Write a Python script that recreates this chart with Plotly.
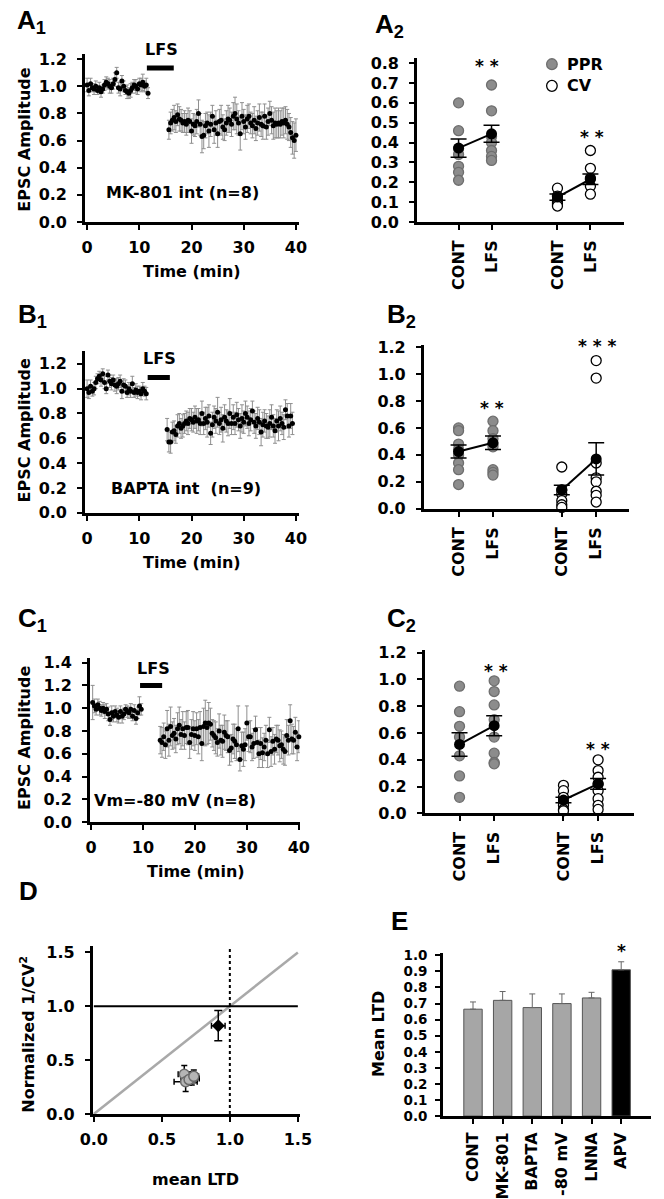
import numpy as np
import plotly.graph_objects as go

W, H = 664, 1199
FONT = "DejaVu Sans"
LETTER_FONT = "Liberation Sans"

# ---------------- time-course data (A1, B1, C1) ----------------
TIME_TICKS = [0, 10, 20, 30, 40]

A1_PRE_T = (0.0, 11.67)
A1_PRE = [1.01, 0.97, 1.02, 0.99, 0.98, 1.00, 0.97, 0.99, 0.96, 0.98,
          1.01, 1.03, 1.02, 1.00, 0.99, 1.02, 1.05, 1.10, 0.99, 0.98,
          1.04, 1.00, 0.97, 0.96, 0.95, 0.97, 0.99, 1.01, 1.00, 0.98,
          1.02, 1.01, 1.03, 1.00, 1.01, 0.95]
A1_PRE_ERR = [0.05, 0.04, 0.04, 0.03, 0.04, 0.04, 0.03, 0.04, 0.04, 0.03,
              0.04, 0.04, 0.04, 0.05, 0.04, 0.04, 0.05, 0.04, 0.04, 0.05,
              0.04, 0.04, 0.03, 0.05, 0.04, 0.05, 0.04, 0.04, 0.05, 0.04,
              0.04, 0.05, 0.06, 0.04, 0.05, 0.04]
A1_POST_T = (15.67, 40.0)
A1_POST = [0.68, 0.73, 0.75, 0.77, 0.74, 0.79, 0.76, 0.75, 0.73, 0.74,
           0.72, 0.75, 0.74, 0.67, 0.72, 0.71, 0.74, 0.80, 0.72, 0.63,
           0.64, 0.71, 0.73, 0.67, 0.72, 0.78, 0.68, 0.73, 0.65, 0.74,
           0.75, 0.70, 0.68, 0.73, 0.76, 0.75, 0.72, 0.78, 0.80, 0.76,
           0.73, 0.65, 0.78, 0.74, 0.70, 0.76, 0.78, 0.73, 0.71, 0.75,
           0.69, 0.73, 0.77, 0.72, 0.71, 0.78, 0.70, 0.74, 0.80, 0.75,
           0.71, 0.73, 0.72, 0.73, 0.72, 0.74, 0.73, 0.75, 0.72, 0.70,
           0.66, 0.62, 0.60, 0.64]
A1_POST_ERR = [0.07, 0.08, 0.08, 0.09, 0.08, 0.08, 0.09, 0.08, 0.07, 0.08,
               0.08, 0.09, 0.08, 0.09, 0.08, 0.08, 0.09, 0.10, 0.08, 0.12,
               0.10, 0.09, 0.08, 0.12, 0.09, 0.08, 0.10, 0.09, 0.10, 0.09,
               0.11, 0.09, 0.08, 0.09, 0.10, 0.09, 0.09, 0.10, 0.12, 0.11,
               0.09, 0.12, 0.10, 0.09, 0.09, 0.10, 0.09, 0.08, 0.09, 0.10,
               0.09, 0.09, 0.10, 0.09, 0.10, 0.09, 0.09, 0.10, 0.09, 0.10,
               0.10, 0.11, 0.10, 0.11, 0.10, 0.10, 0.11, 0.10, 0.11, 0.10,
               0.11, 0.12, 0.13, 0.12]
A1_LFS = (11.45, 16.6, 1.135)

B1_PRE_T = (0.0, 11.33)
B1_PRE = [1.00, 0.97, 1.02, 0.98, 1.00, 1.05, 1.08, 1.10, 1.07, 1.12,
          1.05, 1.00, 1.11, 1.06, 1.04, 1.07, 1.03, 1.02, 1.04, 1.06,
          0.98, 1.03, 1.02, 0.97, 1.00, 0.98, 1.04, 0.97, 0.99, 0.97,
          0.98, 0.96, 1.00, 0.98, 0.96]
B1_PRE_ERR = [0.07, 0.05, 0.05, 0.04, 0.05, 0.05, 0.04, 0.04, 0.05, 0.04,
              0.05, 0.04, 0.04, 0.05, 0.05, 0.04, 0.05, 0.06, 0.05, 0.05,
              0.06, 0.05, 0.05, 0.04, 0.05, 0.05, 0.06, 0.04, 0.05, 0.05,
              0.04, 0.05, 0.05, 0.04, 0.05]
B1_POST_T = (15.33, 39.33)
B1_POST = [0.67, 0.57, 0.57, 0.65, 0.66, 0.63, 0.70, 0.72, 0.68, 0.70,
           0.72, 0.74, 0.72, 0.76, 0.75, 0.73, 0.77, 0.74, 0.75, 0.72,
           0.80, 0.72, 0.76, 0.73, 0.78, 0.64, 0.71, 0.77, 0.74, 0.81,
           0.72, 0.75, 0.68, 0.77, 0.74, 0.72, 0.80, 0.72, 0.77, 0.72,
           0.79, 0.75, 0.70, 0.76, 0.73, 0.80, 0.77, 0.72, 0.75, 0.82,
           0.73, 0.70, 0.76, 0.73, 0.65, 0.71, 0.74, 0.70, 0.69, 0.72,
           0.77, 0.70, 0.66, 0.74, 0.70, 0.76, 0.72, 0.69, 0.83, 0.78,
           0.70, 0.78, 0.72]
B1_POST_ERR = [0.09, 0.08, 0.09, 0.08, 0.08, 0.07, 0.09, 0.08, 0.08, 0.09,
               0.08, 0.08, 0.09, 0.08, 0.09, 0.08, 0.09, 0.10, 0.09, 0.09,
               0.10, 0.09, 0.09, 0.12, 0.09, 0.09, 0.10, 0.09, 0.10, 0.12,
               0.09, 0.10, 0.11, 0.10, 0.09, 0.10, 0.12, 0.09, 0.10, 0.09,
               0.10, 0.09, 0.10, 0.11, 0.09, 0.10, 0.09, 0.10, 0.09, 0.08,
               0.09, 0.10, 0.09, 0.10, 0.11, 0.10, 0.09, 0.10, 0.09, 0.11,
               0.10, 0.09, 0.10, 0.09, 0.12, 0.10, 0.09, 0.10, 0.08, 0.10,
               0.09, 0.10, 0.09]
B1_LFS = (11.6, 15.85, 1.09)

C1_PRE_T = (0.33, 9.67)
C1_PRE = [1.05, 1.02, 0.99, 1.03, 1.00, 0.98, 1.00, 0.97, 0.99, 0.95,
          0.90, 0.96, 0.93, 0.97, 0.94, 0.92, 0.97, 0.93, 0.95, 0.99,
          0.97, 0.96, 0.99, 0.93, 0.98, 0.91, 0.96, 1.02, 0.99]
C1_PRE_ERR = [0.15, 0.06, 0.05, 0.05, 0.06, 0.05, 0.05, 0.06, 0.05, 0.06,
              0.05, 0.06, 0.05, 0.05, 0.06, 0.05, 0.05, 0.06, 0.05, 0.04,
              0.05, 0.05, 0.05, 0.04, 0.05, 0.05, 0.05, 0.08, 0.05]
C1_POST_T = (13.33, 40.0)
C1_POST = [0.72, 0.70, 0.75, 0.68, 0.82, 0.72, 0.84, 0.76, 0.78, 0.73,
           0.82, 0.85, 0.77, 0.82, 0.76, 0.83, 0.83, 0.70, 0.77, 0.82,
           0.76, 0.82, 0.75, 0.83, 0.69, 0.84, 0.87, 0.83, 0.87, 0.86,
           0.78, 0.76, 0.74, 0.70, 0.80, 0.72, 0.71, 0.79, 0.76, 0.75,
           0.63, 0.65, 0.73, 0.71, 0.68, 0.82, 0.55, 0.67, 0.64, 0.68,
           0.87, 0.75, 0.75, 0.66, 0.69, 0.81, 0.70, 0.60, 0.69, 0.61,
           0.66, 0.72, 0.60, 0.81, 0.62, 0.71, 0.64, 0.73, 0.72, 0.67,
           0.68, 0.64, 0.62, 0.76, 0.72, 0.89, 0.73, 0.72, 0.79, 0.66,
           0.75]
C1_POST_ERR = [0.12, 0.13, 0.12, 0.12, 0.16, 0.14, 0.17, 0.12, 0.13, 0.12,
               0.14, 0.16, 0.13, 0.15, 0.12, 0.14, 0.15, 0.14, 0.13, 0.15,
               0.13, 0.14, 0.15, 0.14, 0.15, 0.16, 0.20, 0.15, 0.18, 0.14,
               0.12, 0.13, 0.14, 0.12, 0.15, 0.13, 0.14, 0.15, 0.13, 0.14,
               0.13, 0.12, 0.13, 0.15, 0.14, 0.20, 0.10, 0.12, 0.15, 0.14,
               0.15, 0.13, 0.14, 0.12, 0.13, 0.12, 0.13, 0.12, 0.14, 0.13,
               0.12, 0.13, 0.12, 0.11, 0.13, 0.12, 0.13, 0.12, 0.13, 0.14,
               0.12, 0.13, 0.12, 0.14, 0.13, 0.14, 0.13, 0.12, 0.13, 0.12,
               0.14]
C1_LFS = (9.45, 13.7, 1.20)

# ---------------- PPR / CV scatter data (A2, B2, C2) ----------------
CAT_POS = [1, 2, 4, 5]
CAT_LABELS = ["CONT", "LFS", "CONT", "LFS"]

A2_PPR_CONT = [0.60, 0.46, 0.37, 0.34, 0.28, 0.25, 0.21]
A2_PPR_LFS = [0.69, 0.56, 0.43, 0.40, 0.36, 0.33, 0.31]
A2_PPR_MEAN = [0.372, 0.444]
A2_PPR_SEM = [0.046, 0.043]
A2_CV_CONT = [0.17, 0.13, 0.11, 0.10, 0.09, 0.08]
A2_CV_LFS = [0.36, 0.27, 0.22, 0.18, 0.14]
A2_CV_MEAN = [0.125, 0.215]
A2_CV_SEM = [0.016, 0.027]

B2_PPR_CONT = [0.60, 0.58, 0.48, 0.44, 0.40, 0.34, 0.29, 0.18]
B2_PPR_LFS = [0.65, 0.58, 0.52, 0.48, 0.46, 0.29, 0.27, 0.25]
B2_PPR_MEAN = [0.425, 0.49]
B2_PPR_SEM = [0.048, 0.05]
B2_CV_CONT = [0.31, 0.14, 0.11, 0.06, 0.03, 0.01]
B2_CV_LFS = [1.10, 0.97, 0.34, 0.23, 0.20, 0.13, 0.10, 0.05]
B2_CV_MEAN = [0.14, 0.37]
B2_CV_SEM = [0.035, 0.12]

C2_PPR_CONT = [0.95, 0.76, 0.65, 0.57, 0.43, 0.28, 0.12]
C2_PPR_LFS = [0.99, 0.91, 0.81, 0.70, 0.57, 0.45, 0.38, 0.37]
C2_PPR_MEAN = [0.515, 0.655]
C2_PPR_SEM = [0.088, 0.075]
C2_CV_CONT = [0.21, 0.17, 0.12, 0.08, 0.06, 0.03, 0.02]
C2_CV_LFS = [0.40, 0.32, 0.27, 0.22, 0.17, 0.11, 0.06, 0.03]
C2_CV_MEAN = [0.10, 0.22]
C2_CV_SEM = [0.02, 0.04]

# ---------------- D: 1/CV^2 vs mean LTD ----------------
D_GRAY_X = [0.665, 0.72, 0.675, 0.70, 0.735]
D_GRAY_XERR = [0.045, 0.055, 0.085, 0.06, 0.035]
D_GRAY_Y = [0.37, 0.33, 0.30, 0.32, 0.35]
D_GRAY_YERR = [0.08, 0.06, 0.09, 0.05, 0.06]
D_APV_X = [0.915]
D_APV_XERR = [0.05]
D_APV_Y = [0.82]
D_APV_YERR = [0.14]
D_UNITY = [0.0, 1.5]
D_HLINE_Y = 1.0
D_VLINE_X = 1.0

# ---------------- E: mean LTD bars ----------------
E_CATS = ["CONT", "MK-801", "BAPTA", "-80 mV", "LNNA", "APV"]
E_VALS = [0.665, 0.72, 0.675, 0.70, 0.735, 0.91]
E_ERR = [0.045, 0.055, 0.085, 0.06, 0.035, 0.05]
E_COLORS = ["#a6a6a6"] * 5 + ["#000000"]


# ---------------- helpers ----------------
def rng(p_lo, p_hi, v1, p1, v2, p2):
    s = (v2 - v1) / (p2 - p1)
    return [v1 + (p_lo - p1) * s, v1 + (p_hi - p1) * s]


def px(x):
    return x / W


def py(y):
    return 1 - y / H


TF = dict(family=FONT, size=16, color="black", weight="bold")

# panel geometry: (index, x-dom px, y-dom px (top,bottom), x-calib, y-calib)
PANELS = {
    "A1": (1, (75, 297), (48, 218), (0, 77, 40, 294), (0, 218, 1.2, 53)),
    "A2": (2, (420, 635), (52, 218), (1, 463, 5, 600), (0, 218, 0.8, 57)),
    "B1": (3, (75, 297), (349, 513), (0, 77, 40, 294), (0, 513, 1.2, 362)),
    "B2": (4, (427, 640), (343, 509), (1, 463, 5, 606), (0, 509, 1.2, 345)),
    "C1": (5, (80, 298), (660, 827), (0, 81, 40, 297), (0, 827, 1.4, 665)),
    "C2": (6, (428, 645), (652, 818), (1, 464, 5, 608), (0, 818, 1.2, 655)),
    "D": (7, (83, 298), (952, 1123), (0, 84, 1.5, 296), (0, 1123, 1.5, 959)),
    "E": (8, (447, 663), (960, 1125), (0, 478, 5, 632), (0, 1125, 1.0, 962)),
}

layout_axes = {}
for name, (i, xd, yd, xc, yc) in PANELS.items():
    sfx = "" if i == 1 else str(i)
    base = dict(showline=True, linecolor="black", linewidth=3, showgrid=False,
                zeroline=False, ticks="outside", tickcolor="black", tickwidth=2,
                ticklen=5, tickfont=TF, fixedrange=True)
    xa = dict(base, domain=[px(xd[0]), px(xd[1])], anchor="y" + sfx,
              range=rng(xd[0], xd[1], *xc))
    ya = dict(base, domain=[py(yd[1]), py(yd[0])], anchor="x" + sfx,
              range=rng(yd[1], yd[0], *yc), tickformat=".1f", ticklabelstandoff=7)
    if name in ("A1", "B1", "C1"):
        xa.update(tickvals=TIME_TICKS, ticklabelstandoff=4)
        ya.update(dtick=0.2, tick0=0)
    elif name in ("A2", "B2", "C2"):
        xa.update(tickvals=CAT_POS, ticktext=CAT_LABELS, tickangle=-90, ticklabelstandoff=4)
        ya.update(dtick=0.1 if name == "A2" else 0.2, tick0=0)
    elif name == "D":
        xa.update(dtick=0.5, tick0=0, tickformat=".1f", ticklabelstandoff=4)
        ya.update(dtick=0.5, tick0=0)
    else:
        xa.update(tickvals=list(range(len(E_CATS))), ticktext=E_CATS, tickangle=-90,
                  ticklabelstandoff=2)
        ya.update(dtick=0.1, tick0=0, ticklabelstandoff=5,
                  tickfont=dict(family=FONT, size=13.5, color="black", weight="bold"))
    layout_axes["xaxis" + sfx] = xa
    layout_axes["yaxis" + sfx] = ya


def ax(name):
    i = PANELS[name][0]
    s = "" if i == 1 else str(i)
    return dict(xaxis="x" + s, yaxis="y" + s)


fig = go.Figure()


def add_timecourse(name, pre_t, pre, pre_err, post_t, post, post_err):
    for (t0, t1), vals, errs in ((pre_t, pre, pre_err), (post_t, post, post_err)):
        t = np.linspace(t0, t1, len(vals))
        fig.add_trace(go.Scatter(
            x=t, y=vals, mode="markers", showlegend=False, cliponaxis=False,
            marker=dict(color="black", size=5),
            error_y=dict(type="data", array=errs, color="#8f8f8f", thickness=1, width=2),
            **ax(name)))


add_timecourse("A1", A1_PRE_T, A1_PRE, A1_PRE_ERR, A1_POST_T, A1_POST, A1_POST_ERR)
add_timecourse("B1", B1_PRE_T, B1_PRE, B1_PRE_ERR, B1_POST_T, B1_POST, B1_POST_ERR)
add_timecourse("C1", C1_PRE_T, C1_PRE, C1_PRE_ERR, C1_POST_T, C1_POST, C1_POST_ERR)


def add_group(name, xpos, cont, lfs, mean, sem, filled):
    for x, vals in ((xpos[0], cont), (xpos[1], lfs)):
        fig.add_trace(go.Scatter(
            x=[x] * len(vals), y=vals, mode="markers", showlegend=False, cliponaxis=False,
            marker=dict(size=10, color="#8c8c8c" if filled else "white",
                        line=dict(color="#6e6e6e" if filled else "black", width=1.3)),
            **ax(name)))
    fig.add_trace(go.Scatter(
        x=list(xpos), y=mean, mode="lines+markers", showlegend=False, cliponaxis=False,
        line=dict(color="black", width=2),
        marker=dict(color="black", size=11),
        error_y=dict(type="data", array=sem, color="black", thickness=1.5, width=8),
        **ax(name)))


for name, d in (("A2", (A2_PPR_CONT, A2_PPR_LFS, A2_PPR_MEAN, A2_PPR_SEM,
                        A2_CV_CONT, A2_CV_LFS, A2_CV_MEAN, A2_CV_SEM)),
                ("B2", (B2_PPR_CONT, B2_PPR_LFS, B2_PPR_MEAN, B2_PPR_SEM,
                        B2_CV_CONT, B2_CV_LFS, B2_CV_MEAN, B2_CV_SEM)),
                ("C2", (C2_PPR_CONT, C2_PPR_LFS, C2_PPR_MEAN, C2_PPR_SEM,
                        C2_CV_CONT, C2_CV_LFS, C2_CV_MEAN, C2_CV_SEM))):
    add_group(name, CAT_POS[:2], d[0], d[1], d[2], d[3], True)
    add_group(name, CAT_POS[2:], d[4], d[5], d[6], d[7], False)

# D panel
fig.add_trace(go.Scatter(x=D_UNITY, y=D_UNITY, mode="lines", showlegend=False,
                         line=dict(color="#a9a9a9", width=2.5), **ax("D")))
fig.add_trace(go.Scatter(x=D_UNITY, y=[D_HLINE_Y, D_HLINE_Y], mode="lines", showlegend=False,
                         line=dict(color="black", width=2), **ax("D")))
fig.add_trace(go.Scatter(x=[D_VLINE_X, D_VLINE_X], y=[0, 1.56], mode="lines", showlegend=False,
                         line=dict(color="black", width=2, dash="dot"), **ax("D")))
fig.add_trace(go.Scatter(
    x=D_GRAY_X, y=D_GRAY_Y, mode="markers", showlegend=False,
    marker=dict(size=10, color="#b5b5b5", line=dict(color="#6a6a6a", width=1.5)),
    error_x=dict(type="data", array=D_GRAY_XERR, color="black", thickness=1.5, width=3),
    error_y=dict(type="data", array=D_GRAY_YERR, color="black", thickness=1.5, width=3),
    **ax("D")))
fig.add_trace(go.Scatter(
    x=D_APV_X, y=D_APV_Y, mode="markers", showlegend=False,
    marker=dict(size=10, color="black", symbol="diamond"),
    error_x=dict(type="data", array=D_APV_XERR, color="black", thickness=1.5, width=3),
    error_y=dict(type="data", array=D_APV_YERR, color="black", thickness=1.5, width=4),
    **ax("D")))

# E panel
fig.add_trace(go.Bar(
    x=list(range(len(E_CATS))), y=E_VALS, width=0.62, showlegend=False,
    marker=dict(color=E_COLORS, line=dict(color="#555555", width=1)),
    error_y=dict(type="data", symmetric=False, array=E_ERR, arrayminus=[0] * len(E_ERR),
                 color="#666666", thickness=1, width=3),
    **ax("E")))

# LFS bars
shapes = []
for name, (x0, x1, y) in (("A1", A1_LFS), ("B1", B1_LFS), ("C1", C1_LFS)):
    a = ax(name)
    shapes.append(dict(type="line", xref=a["xaxis"], yref=a["yaxis"], x0=x0, x1=x1, y0=y, y1=y,
                       line=dict(color="black", width=5)))

# A2 legend markers
for (cx, cy), fill, lc in (((560, 58), "#8c8c8c", "#6e6e6e"), ((560, 80), "white", "black")):
    shapes.append(dict(type="circle", xref="paper", yref="paper",
                       x0=px(cx - 5.5), x1=px(cx + 5.5), y0=py(cy + 5.5), y1=py(cy - 5.5),
                       fillcolor=fill, line=dict(color=lc, width=1.3)))

annotations = []


def ann(text, x, y, size=16, angle=0, xanchor="center", yanchor="middle", family=FONT):
    annotations.append(dict(text=text, x=px(x), y=py(y), xref="paper", yref="paper",
                            showarrow=False, textangle=angle, xanchor=xanchor, yanchor=yanchor,
                            font=dict(family=family, size=size, color="black", weight="bold")))


# panel letters
for t, x, y in (("A<sub>1</sub>", 2, 15), ("A<sub>2</sub>", 374, 19), ("B<sub>1</sub>", 3, 313),
                ("B<sub>2</sub>", 387, 313), ("C<sub>1</sub>", 3, 621), ("C<sub>2</sub>", 387, 621),
                ("D", 4, 897), ("E", 391, 927)):
    ann(t, x, y, size=26, xanchor="left", family=LETTER_FONT)

# LFS labels
ann("LFS", 154, 43)
ann("LFS", 152, 357)
ann("LFS", 146, 671)

# condition labels
ann("MK-801 int (n=8)", 176, 188)
ann("BAPTA int  (n=9)", 180, 488)
ann("Vm=-80 mV (n=8)", 168, 805)

# axis titles
for y in (135, 430, 742):
    ann("EPSC Amplitude", 12, y, angle=-90)
ann("Time (min)", 186, 268)
ann("Time (min)", 186, 563)
ann("Time (min)", 190, 877)
ann("Normalized 1/CV<sup>2</sup>", 15, 1042, angle=-90)
ann("mean LTD", 190, 1189)
ann("Mean LTD", 380, 1042, angle=-90)

# legend text
ann("PPR", 574, 58, xanchor="left")
ann("CV", 574, 80, xanchor="left")

# significance stars
for t, x, y in (("* *", 493, 60), ("* *", 602, 132), ("* *", 498, 407), ("* * *", 607, 344),
                ("* *", 502, 674), ("* *", 608, 753), ("*", 632, 958)):
    ann(t, x, y, size=17)

fig.update_layout(
    width=W, height=H, autosize=False,
    margin=dict(l=0, r=0, t=0, b=0),
    paper_bgcolor="white", plot_bgcolor="white",
    font=dict(family=FONT, size=16, color="black", weight="bold"),
    showlegend=False,
    shapes=shapes, annotations=annotations,
    **layout_axes,
)

fig.write_html("out.html", config={"displayModeBar": False},
               post_script="document.body.style.margin='0px';")
